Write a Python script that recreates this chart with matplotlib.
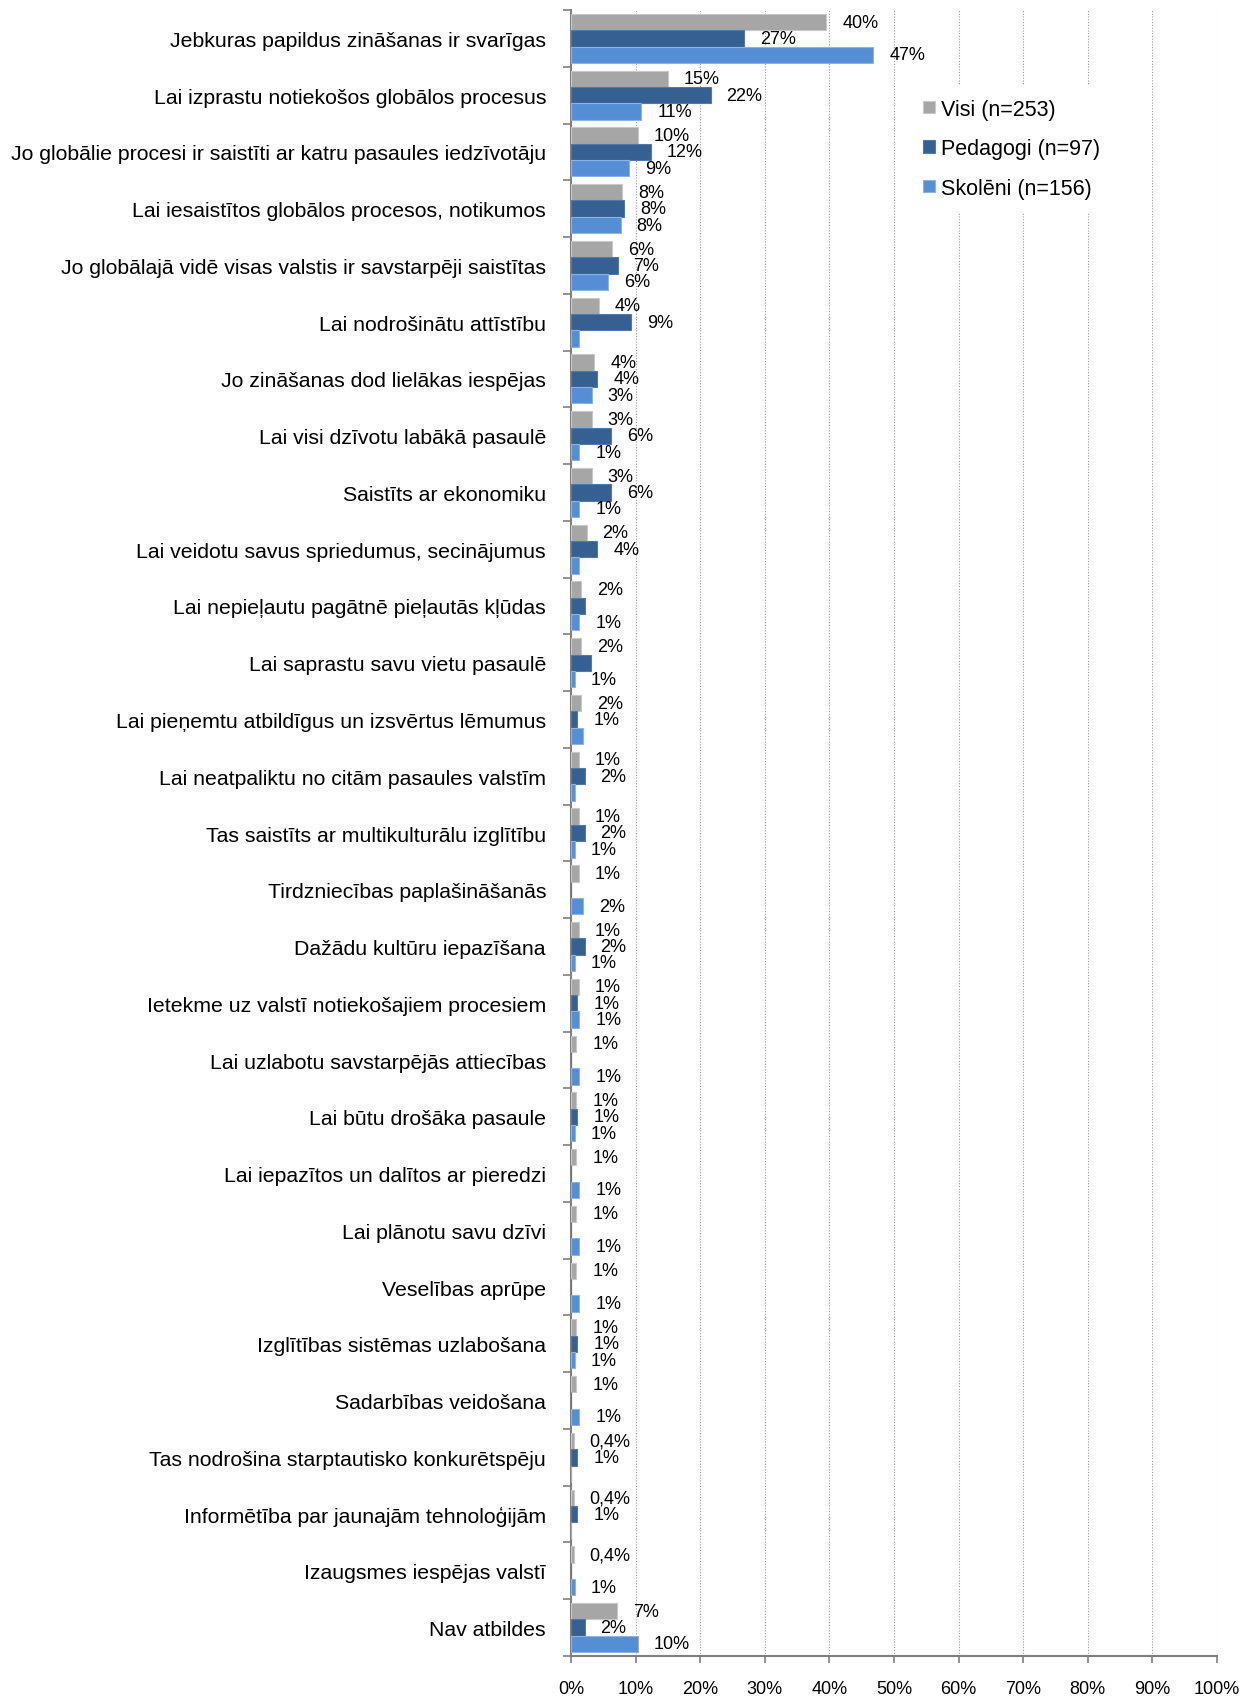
import numpy as np
import matplotlib
matplotlib.use('Agg')
from matplotlib import pyplot as plt
from matplotlib.ticker import FixedLocator

categories = [
    'Jebkuras papildus zināšanas ir svarīgas',
    'Lai izprastu notiekošos globālos procesus',
    'Jo globālie procesi ir saistīti ar katru pasaules iedzīvotāju',
    'Lai iesaistītos globālos procesos, notikumos',
    'Jo globālajā vidē visas valstis ir savstarpēji saistītas',
    'Lai nodrošinātu attīstību',
    'Jo zināšanas dod lielākas iespējas',
    'Lai visi dzīvotu labākā pasaulē',
    'Saistīts ar ekonomiku',
    'Lai veidotu savus spriedumus, secinājumus',
    'Lai nepieļautu pagātnē pieļautās kļūdas',
    'Lai saprastu savu vietu pasaulē',
    'Lai pieņemtu atbildīgus un izsvērtus lēmumus',
    'Lai neatpaliktu no citām pasaules valstīm',
    'Tas saistīts ar multikulturālu izglītību',
    'Tirdzniecības paplašināšanās',
    'Dažādu kultūru iepazīšana',
    'Ietekme uz valstī notiekošajiem procesiem',
    'Lai uzlabotu savstarpējās attiecības',
    'Lai būtu drošāka pasaule',
    'Lai iepazītos un dalītos ar pieredzi',
    'Lai plānotu savu dzīvi',
    'Veselības aprūpe',
    'Izglītības sistēmas uzlabošana',
    'Sadarbības veidošana',
    'Tas nodrošina starptautisko konkurētspēju',
    'Informētība par jaunajām tehnoloģijām',
    'Izaugsmes iespējas valstī',
    'Nav atbildes',
]

visi = [39.5, 15.0, 10.3, 7.9, 6.3, 4.3, 3.6, 3.2, 3.2, 2.4, 1.6, 1.6, 1.6, 1.2, 1.2,
        1.2, 1.2, 1.2, 0.8, 0.8, 0.8, 0.8, 0.8, 0.8, 0.8, 0.4, 0.4, 0.4, 7.1]
pedagogi = [26.8, 21.6, 12.4, 8.2, 7.2, 9.3, 4.1, 6.2, 6.2, 4.1, 2.1, 3.1, 1.0, 2.1, 2.1,
            0, 2.1, 1.0, 0, 1.0, 0, 0, 0, 1.0, 0, 1.0, 1.0, 0, 2.1]
skoleni = [46.8, 10.9, 9.0, 7.7, 5.8, 1.3, 3.2, 1.3, 1.3, 1.3, 1.3, 0.6, 1.9, 0.6, 0.6,
           1.9, 0.6, 1.3, 1.3, 0.6, 1.3, 1.3, 1.3, 0.6, 1.3, 0, 0, 0.6, 10.3]

series_names = ['Visi (n=253)', 'Pedagogi (n=97)', 'Skolēni (n=156)']
colors = ['#A6A6A6', '#376092', '#558ED5']
edges = ['#C8C8C8', '#4F7AB0', '#8DB3E2']
xticks = list(range(0, 101, 10))

# labels that are not shown in the original (category index, series index)
hidden = {(5, 2), (9, 2), (10, 1), (11, 1), (12, 2), (13, 2)}

plt.rcParams['font.family'] = ['Liberation Sans', 'DejaVu Sans']

fig = plt.figure(figsize=(12.41, 16.99), dpi=100)
ax = fig.add_axes([571 / 1241, 1 - 1657 / 1699, (1217 - 571) / 1241, (1657 - 11) / 1699])

n = len(categories)
y = np.arange(n)
h = 0.288
for k, vals in enumerate([visi, pedagogi, skoleni]):
    pos = y + (k - 1) * h
    ax.barh(pos, vals, height=h, color=colors[k], edgecolor=edges[k], linewidth=0.8,
            label=series_names[k], zorder=3)
    for i, v in enumerate(vals):
        if v == 0 or (i, k) in hidden:
            continue
        if round(v) == 0:
            txt = ('%.1f' % v).replace('.', ',') + '%'
        else:
            txt = '%d%%' % round(v)
        ax.annotate(txt, (v, pos[i]), xytext=(16, 0), textcoords='offset pixels',
                    ha='left', va='center', fontsize=13, color='black', zorder=5)

ax.set_ylim(n - 0.5, -0.5)
ax.set_xlim(0, 100)
ax.set_yticks(y)
ax.set_yticklabels(categories, fontsize=15.3)
ax.yaxis.set_minor_locator(FixedLocator(np.arange(-0.5, n, 1)))
ax.tick_params(axis='y', which='major', length=0, pad=18)
ax.tick_params(axis='y', which='minor', length=6, color='#808080', width=1.2)

ax.set_xticks(xticks)
ax.set_xticklabels(['%d%%' % t for t in xticks], fontsize=13)
ax.tick_params(axis='x', which='major', length=5, color='#808080', width=1.2, pad=12.5)

ax.grid(axis='x', color='#9A9A9A', linestyle=(0, (1, 1.5)), linewidth=0.8, zorder=0)
for s in ['top', 'right']:
    ax.spines[s].set_visible(False)
for s in ['left', 'bottom']:
    ax.spines[s].set_color('#808080')
    ax.spines[s].set_linewidth(1.5)

leg = ax.legend(loc='upper left', bbox_to_anchor=(0.509, 0.9605), frameon=True,
                fontsize=15.5, handlelength=0.52, handleheight=0.52, handletextpad=0.3,
                labelspacing=0.86, borderpad=0.6, fancybox=False)
leg.get_frame().set_edgecolor('white')
leg.get_frame().set_facecolor('white')
leg.get_frame().set_alpha(1)
leg.set_zorder(6)

fig.savefig('out.png', dpi=100)
